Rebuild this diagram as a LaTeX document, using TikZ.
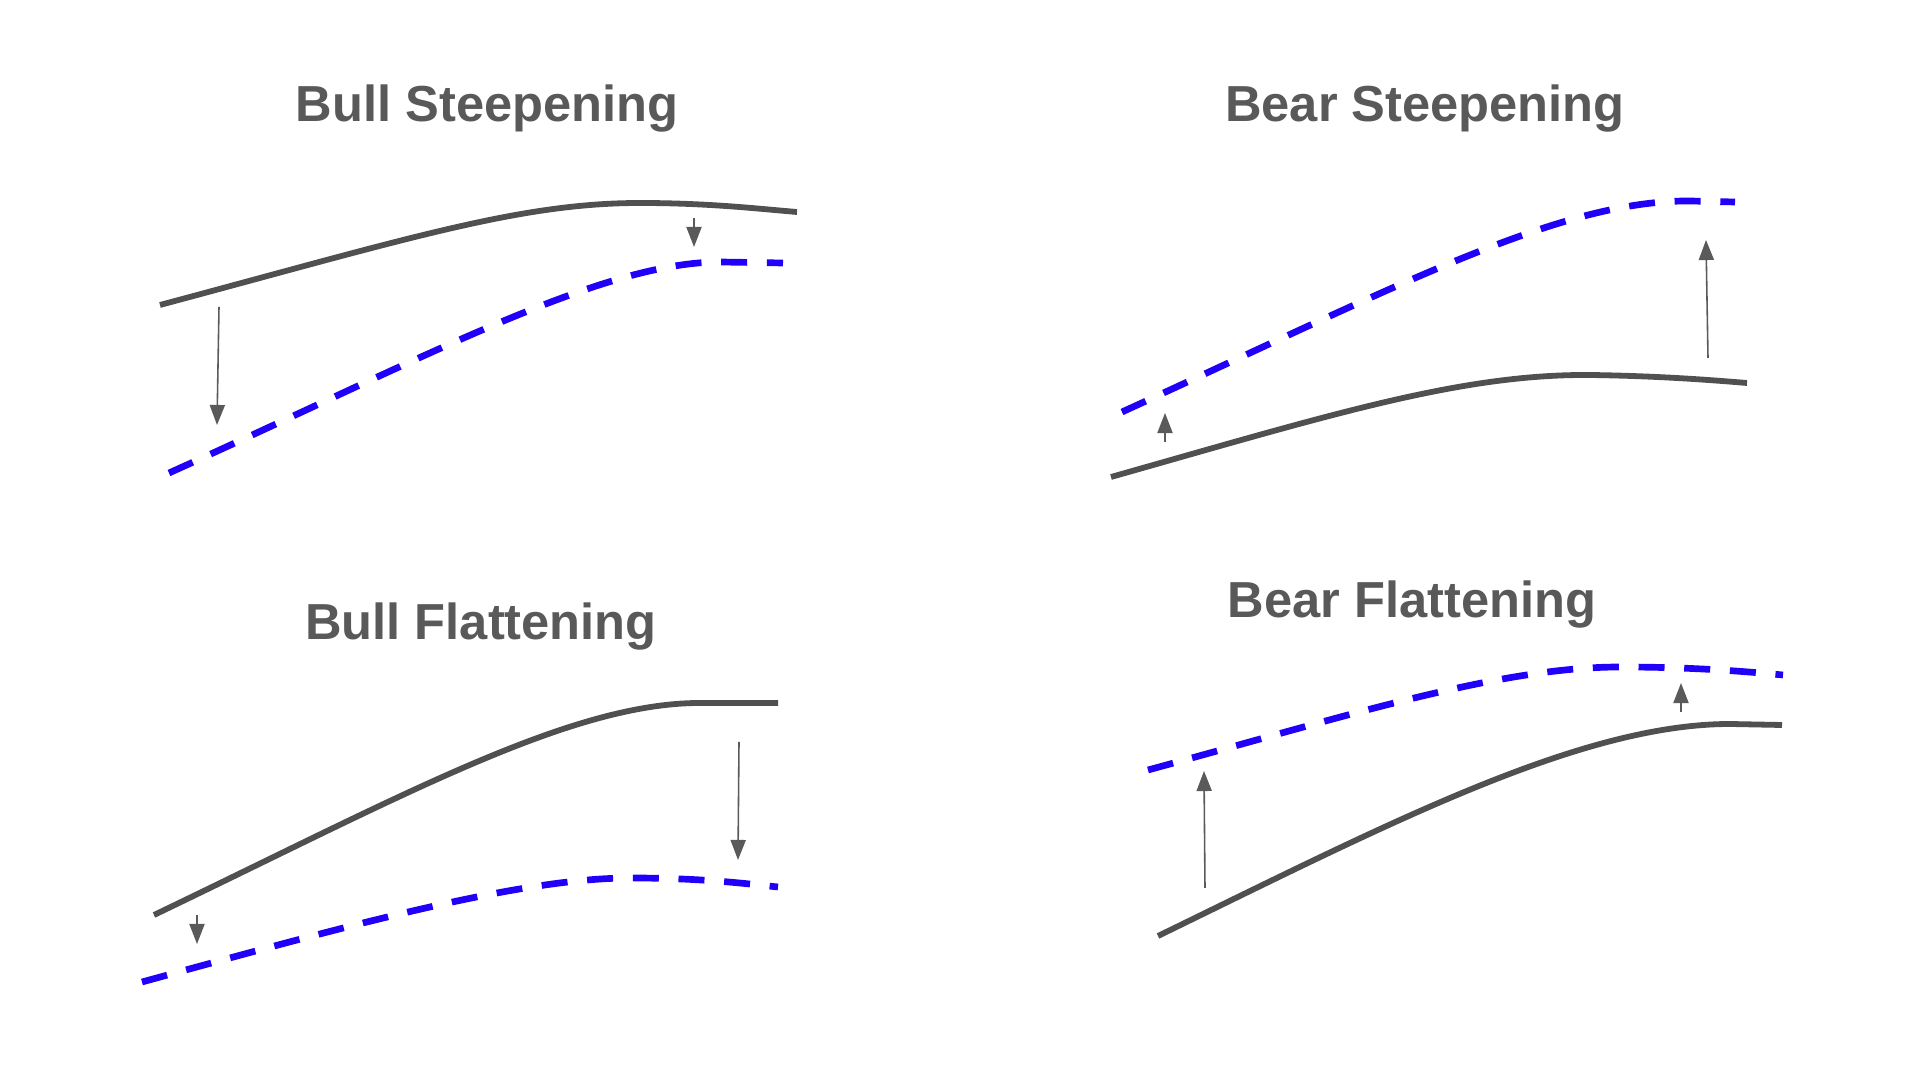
\documentclass[tikz,border=0pt]{standalone}
\usepackage{fontspec}
\setmainfont{Liberation Sans}
\usepackage{xcolor}
\usepackage{tikz}
\usetikzlibrary{positioning}
\usetikzlibrary{arrows.meta}
\definecolor{titlegray}{HTML}{595959}
\definecolor{curvegray}{HTML}{505050}
\definecolor{arrowgray}{HTML}{5A5A5A}
\definecolor{curveblue}{HTML}{2000F8}
\tikzstyle{oldcurve} = [draw=curvegray, line width=1.65pt]
\tikzstyle{newcurve} = [draw=curveblue, line width=1.9pt, dash pattern=on 7.4pt off 5.6pt]
\tikzstyle{moveedge} = [draw=arrowgray, line width=0.45pt, -{Triangle[length=5.7pt,width=4.3pt]}]
\tikzset{paneltitle/.style={anchor=base, inner sep=0pt, text=titlegray, font=\fontsize{14.4}{17}\selectfont\bfseries}}

\begin{document}
\begin{tikzpicture}[x=0.01cm, y=-0.01cm]

  \useasboundingbox (0,0) rectangle (1920,1080);

   \foreach \x/\y/\name/\label in {487/122/bullsteep/Bull Steepening, 1425/122/bearsteep/Bear Steepening, 481/640/bullflat/Bull Flattening, 1412/618/bearflat/Bear Flattening}
          \node[paneltitle] (\name) at (\x,\y) {\label};

  % bull steepening
  \draw[oldcurve] (160,305) .. controls (410,238) and (520,203) .. (640,203) .. controls (710,203) and (760,209) .. (797,212);
  \draw[newcurve] (169,473) .. controls (420,360) and (600,262) .. (720,262) -- (783,263);

  % bear steepening
  \draw[oldcurve] (1111,477) .. controls (1330,415) and (1460,374) .. (1590,375) .. controls (1660,376) and (1710,380) .. (1747,383);
  \draw[newcurve] (1122,412) .. controls (1400,285) and (1560,200) .. (1690,201) -- (1735,202);

  % bull flattening
  \draw[oldcurve] (154,915) .. controls (404,795) and (570,703) .. (700,703) -- (778,703);
  \draw[newcurve] (142,982) .. controls (350,925) and (520,878) .. (630,878) .. controls (700,878) and (740,883) .. (778,887);

  % bear flattening
  \draw[oldcurve] (1158,936) .. controls (1388,824) and (1580,724) .. (1730,724) -- (1782,725);
  \draw[newcurve] (1148,770) .. controls (1350,715) and (1500,667) .. (1620,667) .. controls (1690,667) and (1740,671) .. (1783,675);

   \foreach \x/\y/\name in {219/307/s1, 217/425/t1, 694/218/s2, 694/247/t2, 1165/442/s3, 1165/413/t3, 1708/358/s4, 1706/240/t4,
                            197/915/s5, 197/944/t5, 739/742/s6, 738/860/t6, 1205/888/s7, 1204/771/t7, 1681/712/s8, 1681/683/t8}
          \coordinate (\name) at (\x,\y);

  \foreach \source/ \dest in {s1/t1, s2/t2, s3/t3, s4/t4, s5/t5, s6/t6, s7/t7, s8/t8}
         \path[moveedge] (\source) -- (\dest);

\end{tikzpicture}
\end{document}
